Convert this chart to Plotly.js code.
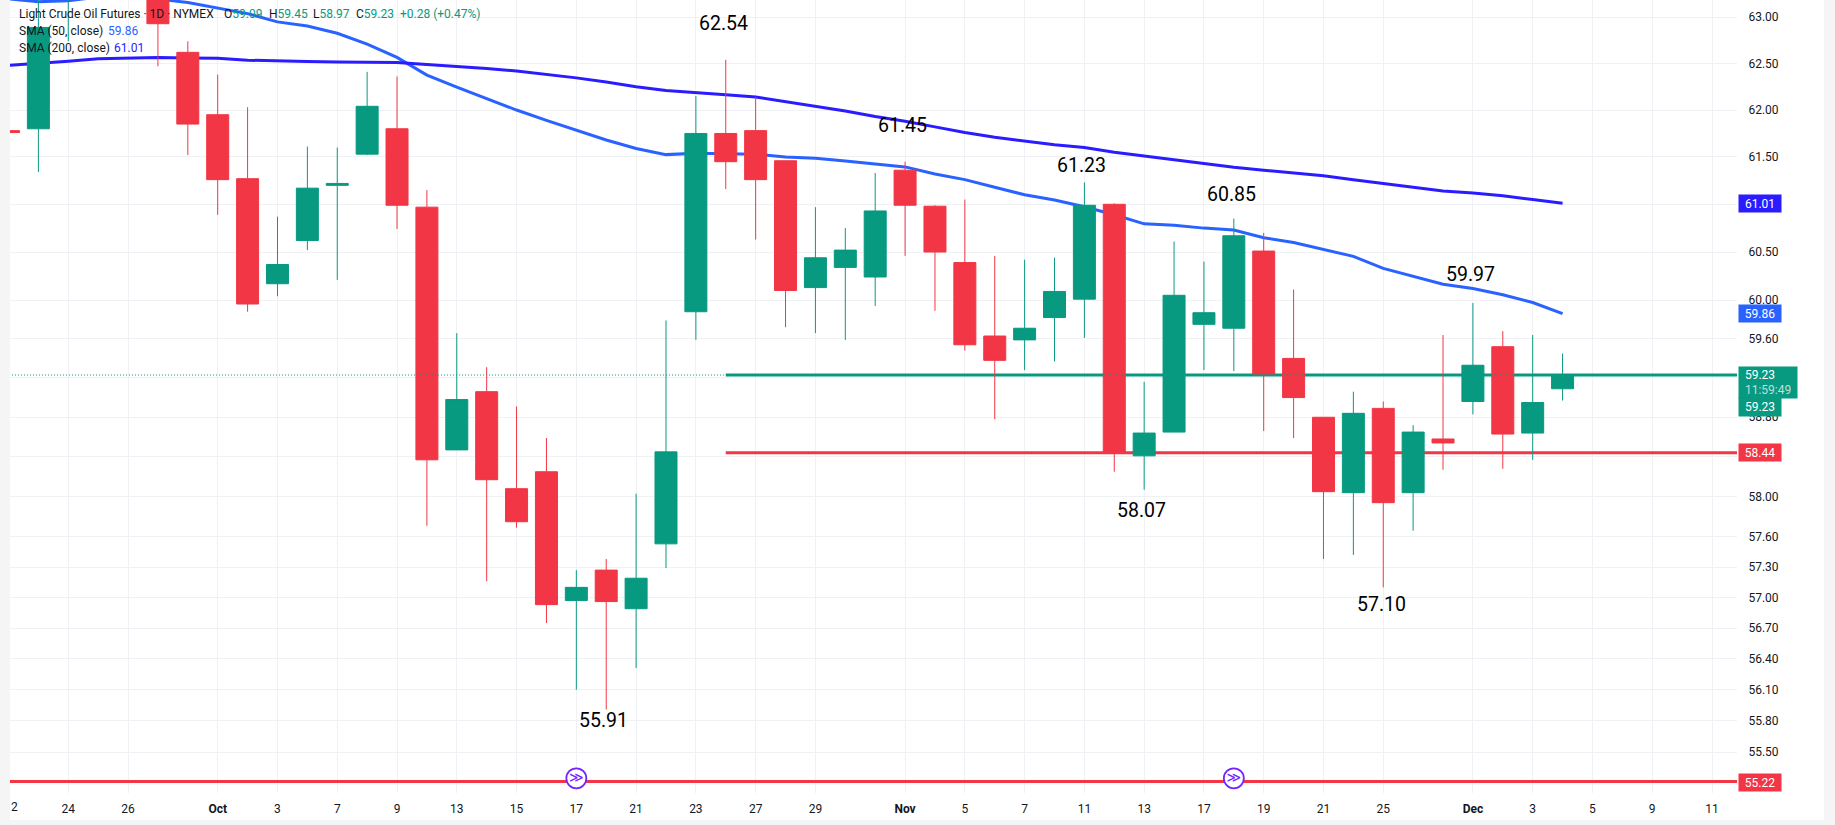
<!DOCTYPE html>
<html><head><meta charset="utf-8">
<script src="https://cdn.plot.ly/plotly-3.0.1.min.js"></script>
<style>html,body{margin:0;padding:0;background:#f5f5f5;overflow:hidden}#c{position:absolute;left:10px;top:0;width:1814px;height:820px}</style>
</head><body><div id="c"></div>
<script>
const dayLabels = ['22','23','24','25','26','29','30','Oct 1','2','3','6','7','8','9','10','13','14','15','16','17','20','21','22','23','24','27','28','29','30','31','Nov 3','4','5','6','7','10','11','12','13','14','17','18','19','20','21','24','25','26','28','Dec 1','2','3','4'];
const opens  = [61.78,61.80,63.40,63.50,63.60,63.60,62.62,61.95,61.27,60.17,60.62,61.20,61.53,61.80,60.97,58.47,59.06,58.08,58.25,56.97,57.27,56.89,57.53,59.88,61.75,61.78,61.46,60.13,60.34,60.24,61.36,60.98,60.39,59.63,59.59,59.82,60.01,61.00,58.41,58.65,59.75,59.71,60.51,59.40,58.80,58.04,58.89,58.04,58.58,58.96,59.52,58.64,59.09];
const highs  = [61.90,63.30,63.60,63.90,63.90,63.80,62.74,62.38,62.03,60.87,61.61,61.60,62.41,62.36,61.15,59.66,59.31,58.91,58.59,57.27,57.38,58.03,59.79,62.15,62.54,62.14,61.46,60.97,60.75,61.33,61.45,60.99,61.05,60.46,60.42,60.44,61.23,61.01,59.16,60.61,60.40,60.85,60.70,60.11,58.80,59.06,58.96,58.72,59.64,59.97,59.68,59.64,59.45];
const lows   = [61.60,61.34,62.74,63.30,63.30,62.47,61.52,60.89,59.88,60.04,60.52,60.21,61.52,60.74,57.71,58.47,57.16,57.69,56.75,56.10,55.91,56.31,57.29,59.59,61.16,60.63,59.72,59.66,59.59,59.94,60.46,59.89,59.48,58.78,59.28,59.37,59.61,58.25,58.07,58.65,59.28,59.27,58.66,58.59,57.38,57.42,57.10,57.66,58.27,58.83,58.28,58.37,58.97];
const closes = [61.76,62.89,63.50,63.70,63.70,62.93,61.85,61.26,59.96,60.37,61.17,61.22,62.04,60.99,58.37,58.98,58.17,57.75,56.93,57.10,56.96,57.19,58.45,61.75,61.45,61.26,60.10,60.44,60.52,60.93,60.99,60.50,59.54,59.38,59.71,60.09,60.99,58.45,58.64,60.05,59.87,60.67,59.24,59.00,58.05,58.84,57.94,58.65,58.54,59.33,58.63,58.95,59.23];
const sma200 = [62.48,62.50,62.525,62.55,62.56,62.565,62.56,62.555,62.535,62.525,62.52,62.515,62.515,62.51,62.49,62.47,62.445,62.42,62.385,62.345,62.30,62.25,62.21,62.19,62.165,62.14,62.09,62.04,61.99,61.93,61.88,61.82,61.76,61.71,61.67,61.63,61.60,61.55,61.51,61.47,61.43,61.39,61.36,61.33,61.30,61.26,61.22,61.18,61.14,61.12,61.09,61.05,61.01];
const sma50  = [63.20,63.17,63.18,63.22,63.23,63.20,63.16,63.10,63.04,62.95,62.906,62.826,62.71,62.565,62.375,62.245,62.12,62.00,61.89,61.785,61.68,61.59,61.525,61.54,61.535,61.53,61.50,61.486,61.457,61.425,61.395,61.32,61.26,61.18,61.10,61.045,60.975,60.89,60.795,60.78,60.75,60.73,60.65,60.60,60.53,60.455,60.33,60.245,60.165,60.12,60.055,59.975,59.86];
const priceTicks = [63,62.5,62,61.5,61,60.5,60,59.6,59.2,58.8,58.4,58,57.6,57.3,57,56.7,56.4,56.1,55.8,55.5];
const coveredPriceTicks = [61,59.2,58.4];
const xTickPos  = [0,2,4,7,9,11,13,15,17,19,21,23,25,27,30,32,34,36,38,40,42,44,46,49,51,53,55,57];
const xTickText = ['22','24','26','<b>Oct</b>','3','7','9','13','15','17','21','23','27','29','<b>Nov</b>','5','7','11','13','17','19','21','25','<b>Dec</b>','3','5','9','11'];
const supportLevel = 58.44, resistLevel = 59.23, lowerLevel = 55.22;
const levelStartBar = 24;
const calloutTexts = ['62.54','61.45','61.23','60.85','59.97','57.10','58.07','55.91'];
const newsBars = [19, 41];
const newsLevel = 55.25;

const GREEN='#089981', RED='#f23645', BLUE50='#2962ff', BLUE200='#2a1cff', FONT='Roboto, sans-serif';
const barsIdx = dayLabels.map((_,i)=>i);
const PW=1727, PH=793;
const xRange=[(10-8.5)/29.886,(1737-8.5)/29.886];
const yRange=[Math.log10(55.11),Math.log10(63.188)];
const px=v=>(v-10)/PW, py=v=>1-v/PH;

const traces=[
 {type:'scatter',mode:'lines',x:[-5,60],y:[lowerLevel,lowerLevel],line:{color:RED,width:3},hoverinfo:'skip'},
 {type:'scatter',mode:'lines',x:[levelStartBar,60],y:[resistLevel,resistLevel],line:{color:GREEN,width:3},hoverinfo:'skip'},
 {type:'scatter',mode:'lines',x:[levelStartBar,60],y:[supportLevel,supportLevel],line:{color:RED,width:3},hoverinfo:'skip'},
 {type:'scatter',mode:'lines',x:barsIdx,y:sma50,line:{color:BLUE50,width:3},hoverinfo:'skip'},
 {type:'scatter',mode:'lines',x:barsIdx,y:sma200,line:{color:BLUE200,width:3},hoverinfo:'skip'},
 {type:'candlestick',x:barsIdx,open:opens,high:highs,low:lows,close:closes,yaxis:'y2',whiskerwidth:0,
  increasing:{line:{color:GREEN,width:1},fillcolor:GREEN},decreasing:{line:{color:RED,width:1},fillcolor:RED},hoverinfo:'skip'},
 {type:'scatter',mode:'lines',x:[-5,60],y:[resistLevel,resistLevel],yaxis:'y3',line:{color:GREEN,width:1,dash:'1px,2px'},hoverinfo:'skip'},
 {type:'scatter',mode:'markers+text',x:newsBars,y:newsBars.map(()=>newsLevel),yaxis:'y3',
  marker:{symbol:'circle',size:20,color:'#fff',line:{color:'#7424ff',width:1.8}},
  text:newsBars.map(()=>'≫'),textposition:'middle center',textfont:{family:'DejaVu Sans',size:14,color:'#7424ff'},hoverinfo:'skip'}
];

const calloutPos=[[723.4,24],[902.5,125.3],[1081.2,165],[1231,194],[1470.8,274],[1381,604],[1141.7,510],[603,720]];
const ann=[];
calloutTexts.forEach((t,i)=>ann.push({xref:'paper',yref:'paper',x:px(calloutPos[i][0]),y:py(calloutPos[i][1]),text:t,showarrow:false,xanchor:'center',yanchor:'middle',font:{family:FONT,size:19.5,color:'#000'}}));
function hdr(x,y,t){ann.push({xref:'paper',yref:'paper',x:px(x),y:py(y),text:t,showarrow:false,xanchor:'left',yanchor:'middle',borderpad:0,font:{family:FONT,size:12,color:'#131722'}});}
const g=s=>`<span style="color:${GREEN}">${s}</span>`;
hdr(18,13.7,'Light Crude Oil Futures · 1D · NYMEX');
hdr(223,13.7,'O'+g('59.09')); hdr(268,13.7,'H'+g('59.45')); hdr(312,13.7,'L'+g('58.97')); hdr(355,13.7,'C'+g('59.23')); hdr(399,13.7,g('+0.28 (+0.47%)'));
hdr(18,30.7,'SMA (50, close)'); hdr(107,30.7,`<span style="color:${BLUE50}">59.86</span>`);
hdr(18,47.7,'SMA (200, close)'); hdr(113,47.7,`<span style="color:${BLUE200}">61.01</span>`);
hdr(10,806.7,'2');
function tag(t,color,cy,w,h,al){ann.push({xref:'paper',yref:'paper',x:1,xshift:1,y:py(cy),text:t,showarrow:false,xanchor:'left',yanchor:'middle',width:w,height:h,bgcolor:color,borderpad:0,align:al||'center',font:{family:FONT,size:12,color:'#fff'}});}
tag('61.01',BLUE200,203.5,42,17);
tag('59.86',BLUE50,313.5,42,17);
tag('&nbsp;&nbsp;59.23<br>&nbsp;&nbsp;<span style="color:rgba(255,255,255,0.72)">11:59:49</span>',GREEN,382.5,58,31,'left');
tag('59.23',GREEN,406.8,42,18);
tag('58.44',RED,452.6,42,17);
tag('55.22',RED,782.3,42,17);

const layout={
 width:1814,height:820,margin:{l:0,r:87,t:0,b:27},paper_bgcolor:'#fff',plot_bgcolor:'#fff',showlegend:false,
 boxgap:0.264,boxgroupgap:0,hovermode:false,
 font:{family:FONT,size:12,color:'#131722'},
 xaxis:{type:'linear',range:xRange,tickmode:'array',tickvals:xTickPos,ticktext:xTickText,showgrid:true,gridcolor:'#eff1f5',gridwidth:1,zeroline:false,showline:false,ticks:'outside',ticklen:5,tickcolor:'rgba(0,0,0,0)',tickangle:0,tickfont:{family:FONT,size:12,color:'#131722'},rangeslider:{visible:false}},
 yaxis:{type:'log',side:'right',range:yRange,tickmode:'array',tickvals:priceTicks,ticktext:priceTicks.map(v=>coveredPriceTicks.includes(v)?'':v.toFixed(2)),showgrid:true,gridcolor:'#eff1f5',gridwidth:1,zeroline:false,showline:false,ticks:'outside',ticklen:8,tickcolor:'rgba(0,0,0,0)',tickfont:{family:FONT,size:12,color:'#131722'}},
 yaxis2:{type:'log',overlaying:'y',side:'right',range:yRange,visible:false},
 yaxis3:{type:'log',overlaying:'y',side:'right',range:yRange,visible:false},
 annotations:ann
};
Plotly.newPlot('c',traces,layout,{displayModeBar:false,staticPlot:true});
</script></body></html>
